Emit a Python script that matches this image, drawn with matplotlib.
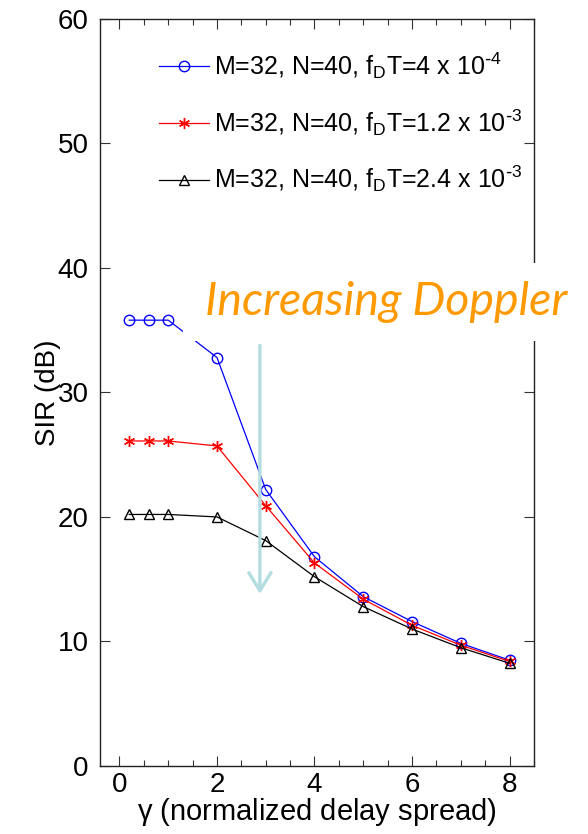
import matplotlib
matplotlib.use("Agg")
import matplotlib.pyplot as plt
from matplotlib.patches import Rectangle, FancyArrowPatch
from matplotlib.ticker import MultipleLocator

plt.rcParams['font.family'] = ['Liberation Sans', 'DejaVu Sans']
plt.rcParams['mathtext.default'] = 'regular'

# data
gamma = [0.2, 0.6, 1, 2, 3, 4, 5, 6, 7, 8]
sir_low = [35.8, 35.8, 35.8, 32.8, 22.2, 16.8, 13.6, 11.6, 9.85, 8.5]
sir_mid = [26.1, 26.1, 26.1, 25.7, 20.9, 16.3, 13.4, 11.3, 9.7, 8.4]
sir_high = [20.2, 20.2, 20.2, 20.0, 18.1, 15.2, 12.8, 11.0, 9.5, 8.25]
labels = [r"M=32, N=40, f$_D$T=4 x 10$^{\text{-}4}$",
          r"M=32, N=40, f$_D$T=1.2 x 10$^{\text{-}3}$",
          r"M=32, N=40, f$_D$T=2.4 x 10$^{\text{-}3}$"]

fig = plt.figure(figsize=(5.88, 8.34), dpi=100)
ax = fig.add_axes([0.170, 0.0815, 0.738, 0.896])

ax.plot(gamma, sir_low, color='blue', marker='o', mfc='none', ms=7.5, lw=0.9, label=labels[0])
ax.plot(gamma, sir_mid, color='red', marker=(6, 2, 0), mfc='none', ms=8, mew=1.0, lw=0.9, label=labels[1])
ax.plot(gamma, sir_high, color='black', marker='^', mfc='none', ms=7.5, lw=0.9, label=labels[2])

ax.set_xlim(-0.4, 8.5)
ax.set_ylim(0, 60)
ax.xaxis.set_major_locator(MultipleLocator(2))
ax.xaxis.set_minor_locator(MultipleLocator(0.5))
ax.yaxis.set_major_locator(MultipleLocator(10))
ax.tick_params(which='both', direction='in', top=True, right=True, labelsize=20, width=0.8, color='#333333')
ax.tick_params(which='major', length=7, pad=8)
ax.tick_params(which='minor', length=4)
ax.tick_params(axis='x', which='major', pad=4)
for s in ax.spines.values():
    s.set_linewidth(1.0)
    s.set_color('#222222')

ax.set_xlabel(r"$\gamma$ (normalized delay spread)", fontsize=21, labelpad=-1)
ax.set_ylabel("SIR (dB)", fontsize=20, labelpad=-2)

leg = ax.legend(loc='upper left', frameon=False, fontsize=18, handlelength=2.0,
                handletextpad=0.2, labelspacing=1.05, bbox_to_anchor=(0.135, 0.958),
                borderaxespad=0, borderpad=0)

# arrow
arr = FancyArrowPatch((2.88, 34.0), (2.88, 13.6), arrowstyle='->,head_length=0.65,head_width=0.4',
                      mutation_scale=20, color='#b3dde0', lw=2.4, zorder=5)
ax.add_patch(arr)

# white text box over the plot
fig.patches.append(Rectangle((183 / 588, 1 - 341 / 834), 405 / 588, 78 / 834,
                             transform=fig.transFigure, facecolor='white',
                             edgecolor='none', zorder=10))
fig.text(205 / 588, 1 - 302 / 834, "Increasing Doppler", family='Lato', style='italic',
         fontsize=33.5, color='#ff9900', va='center', ha='left', zorder=11)

fig.savefig("out.png", dpi=100)
